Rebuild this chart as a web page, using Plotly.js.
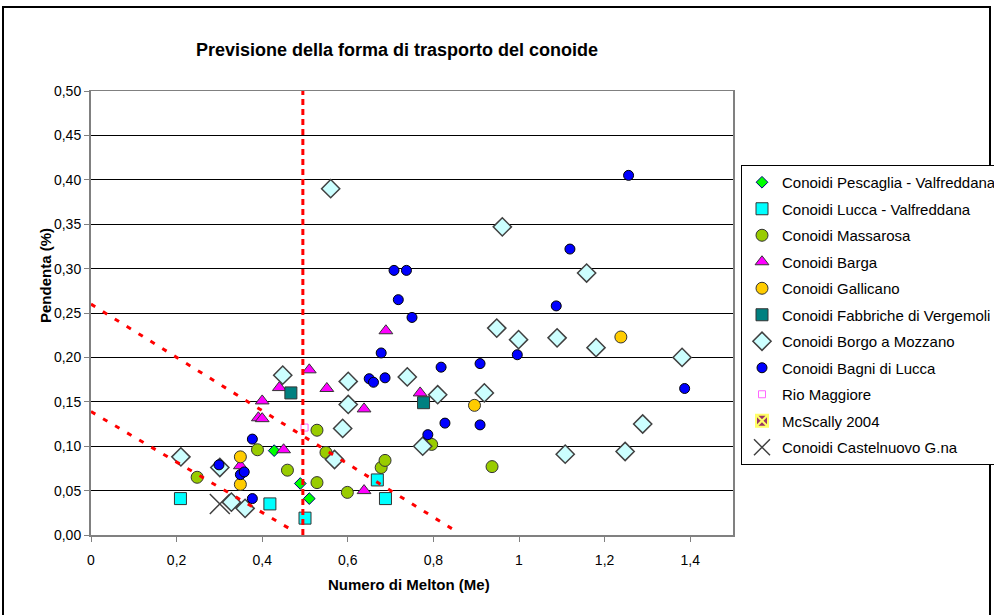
<!DOCTYPE html>
<html>
<head>
<meta charset="utf-8">
<script src="https://cdn.plot.ly/plotly-3.0.1.min.js"></script>
<style>
html,body{margin:0;padding:0;background:#fff;}
#chart{width:994px;height:615px;}
</style>
</head>
<body>
<div id="chart"></div>
<script>
// ---- data ----
const pescagliaX = [0.428, 0.489, 0.510];
const pescagliaY = [0.095, 0.058, 0.041];

const luccaX = [0.209, 0.418, 0.500, 0.669, 0.688];
const luccaY = [0.041, 0.035, 0.019, 0.062, 0.041];

const massarosaX = [0.248, 0.389, 0.459, 0.528, 0.528, 0.549, 0.599, 0.678, 0.687, 0.796, 0.937];
const massarosaY = [0.065, 0.096, 0.073, 0.118, 0.059, 0.093, 0.048, 0.076, 0.084, 0.102, 0.077];

const bargaX = [0.349, 0.391, 0.400, 0.400, 0.440, 0.450, 0.510, 0.551, 0.638, 0.638, 0.689, 0.769];
const bargaY = [0.078, 0.132, 0.131, 0.151, 0.166, 0.096, 0.186, 0.165, 0.142, 0.050, 0.230, 0.160];

const gallicanoX = [0.349, 0.349, 0.896, 1.238];
const gallicanoY = [0.088, 0.057, 0.146, 0.223];

const fabbricheX = [0.467, 0.777];
const fabbricheY = [0.160, 0.149];

const borgoX = [0.210, 0.301, 0.328, 0.360, 0.448, 0.560, 0.569, 0.588, 0.601, 0.601, 0.739, 0.775,
                0.810, 0.919, 0.948, 0.961, 0.999, 1.089, 1.108, 1.158, 1.180, 1.248, 1.289, 1.381];
const borgoY = [0.088, 0.076, 0.037, 0.030, 0.180, 0.390, 0.085, 0.120, 0.147, 0.173, 0.178, 0.100,
                0.158, 0.160, 0.233, 0.347, 0.220, 0.222, 0.091, 0.295, 0.211, 0.094, 0.125, 0.200];

const bagniX = [0.299, 0.349, 0.358, 0.377, 0.377, 0.650, 0.660, 0.678, 0.687, 0.708, 0.718, 0.737,
                0.750, 0.787, 0.818, 0.827, 0.909, 0.909, 0.996, 1.087, 1.119, 1.256, 1.387];
const bagniY = [0.079, 0.068, 0.071, 0.108, 0.041, 0.176, 0.172, 0.205, 0.177, 0.298, 0.265, 0.298,
                0.245, 0.113, 0.189, 0.126, 0.193, 0.124, 0.203, 0.258, 0.322, 0.405, 0.165];

const rioX = [0.499];
const rioY = [0.121];

const mcscallyX = [0.75];
const mcscallyY = [-0.015];

const castelnuovoX = [0.301];
const castelnuovoY = [0.035];

// threshold lines (red dashed)
const limitVX = [0.495, 0.495];
const limitVY = [0, 0.5];
const upperX = [0, 0.857];
const upperY = [0.26, 0.003];
const lowerX = [0, 0.475];
const lowerY = [0.139, 0.004];

const seriesNames = [
  'Conoidi Pescaglia - Valfreddana', 'Conoidi Lucca - Valfreddana', 'Conoidi Massarosa',
  'Conoidi Barga', 'Conoidi Gallicano', 'Conoidi Fabbriche di Vergemoli',
  'Conoidi Borgo a Mozzano', 'Conoidi Bagni di Lucca', 'Rio Maggiore',
  'McScally 2004', 'Conoidi Castelnuovo G.na'
];

const xTickVals = [0, 0.2, 0.4, 0.6, 0.8, 1, 1.2, 1.4];
const xTickText = ['0', '0,2', '0,4', '0,6', '0,8', '1', '1,2', '1,4'];
const yTickVals = [0, 0.05, 0.10, 0.15, 0.20, 0.25, 0.30, 0.35, 0.40, 0.45, 0.50];
const yTickText = ['0,00', '0,05', '0,10', '0,15', '0,20', '0,25', '0,30', '0,35', '0,40', '0,45', '0,50'];

// ---- traces ----
function pts(i, x, y, marker) {
  return {type: 'scatter', mode: 'markers', name: seriesNames[i], x: x, y: y,
          marker: marker, legendgroup: 'g' + i, hoverinfo: 'x+y+name'};
}
const dark = '#333333';
const traces = [
  pts(0, pescagliaX, pescagliaY, {symbol: 'diamond', size: 9, color: '#00ff00', line: {color: '#000080', width: 1}}),
  pts(1, luccaX, luccaY, {symbol: 'square', size: 12, color: '#00ffff', line: {color: dark, width: 1}}),
  pts(2, massarosaX, massarosaY, {symbol: 'circle', size: 12, color: '#99cc00', line: {color: dark, width: 1}}),
  pts(3, bargaX, bargaY, {symbol: 'triangle-up', size: 12, color: '#ff00ff', line: {color: dark, width: 1}}),
  pts(4, gallicanoX, gallicanoY, {symbol: 'circle', size: 12, color: '#ffcc00', line: {color: dark, width: 1}}),
  pts(5, fabbricheX, fabbricheY, {symbol: 'square', size: 12, color: '#008080', line: {color: dark, width: 1}}),
  pts(6, borgoX, borgoY, {symbol: 'diamond', size: 14, color: '#ccffff', line: {color: '#404040', width: 1.5}}),
  pts(7, bagniX, bagniY, {symbol: 'circle', size: 10, color: '#0000ff', line: {color: '#000000', width: 1}}),
  pts(8, rioX, rioY, {symbol: 'square-open', size: 7, color: '#ff66ff', line: {color: '#ff66ff', width: 1}}),
  pts(9, mcscallyX, mcscallyY, {symbol: 'square-x', size: 12, color: '#993366', line: {color: '#ffff66', width: 2}}),
  pts(10, castelnuovoX, castelnuovoY, {symbol: 'x-thin-open', size: 20, color: '#404040', line: {color: '#404040', width: 1.5}})
];
function redLine(x, y, dash) {
  return {type: 'scatter', mode: 'lines', x: x, y: y, showlegend: false, hoverinfo: 'skip',
          line: {color: '#ff0000', width: 3, dash: dash}};
}
traces.push(redLine(limitVX, limitVY, '6px,4px'));
traces.push(redLine(upperX, upperY, '5px,9px'));
traces.push(redLine(lowerX, lowerY, '5px,9px'));

const FONT = 'Liberation Sans, Arial, sans-serif';
const L = 91, R = 733, T = 91, B = 535;
const px2paperX = p => (p - L) / (R - L);
const px2paperY = p => (B - p) / (B - T);

const layout = {
  width: 994, height: 615,
  margin: {l: L, r: 994 - R, t: T, b: 615 - B, autoexpand: false},
  paper_bgcolor: '#ffffff', plot_bgcolor: '#ffffff',
  font: {family: FONT, color: '#000000', size: 14},
  title: {text: 'Previsione della forma di trasporto del conoide',
          font: {family: FONT, size: 18, weight: 'bold', color: '#000'},
          xref: 'container', yref: 'container', x: 397 / 994, y: 1 - 50 / 615,
          xanchor: 'center', yanchor: 'middle'},
  xaxis: {range: [0, 1.5], tickvals: xTickVals, ticktext: xTickText,
          showgrid: false, zeroline: false, showline: true, linecolor: '#808080', linewidth: 1.5, mirror: true,
          ticks: 'outside', ticklen: 5, tickcolor: '#808080', ticklabelstandoff: 7,
          tickfont: {size: 14, family: FONT}},
  yaxis: {range: [0, 0.5], tickvals: yTickVals, ticktext: yTickText,
          showgrid: true, gridcolor: '#000000', gridwidth: 1, zeroline: false,
          showline: true, linecolor: '#808080', linewidth: 2, mirror: true,
          ticks: 'outside', ticklen: 5, tickcolor: '#808080', tickfont: {size: 14, family: FONT}},
  showlegend: true,
  legend: {x: px2paperX(741), y: px2paperY(165), xanchor: 'left', yanchor: 'top',
           bgcolor: '#ffffff', bordercolor: '#000000', borderwidth: 1,
           font: {family: FONT, size: 15, color: '#000'}, tracegroupgap: 4, itemsizing: 'trace'},
  annotations: [
    {text: 'Pendenta (%)', textangle: -90, xref: 'paper', yref: 'paper',
     x: px2paperX(45), y: px2paperY(276), xanchor: 'center', yanchor: 'middle', showarrow: false,
     font: {family: FONT, size: 15, weight: 'bold'}},
    {text: 'Numero di Melton (Me)', xref: 'paper', yref: 'paper',
     x: px2paperX(409), y: px2paperY(584), xanchor: 'center', yanchor: 'middle', showarrow: false,
     font: {family: FONT, size: 15, weight: 'bold'}}
  ],
  shapes: [
    {type: 'rect', xref: 'paper', yref: 'paper', layer: 'below',
     x0: px2paperX(3), x1: px2paperX(990), y0: px2paperY(625), y1: px2paperY(7),
     line: {color: '#000000', width: 2}}
  ]
};

Plotly.newPlot('chart', traces, layout, {displayModeBar: false, staticPlot: true});
</script>
</body>
</html>
